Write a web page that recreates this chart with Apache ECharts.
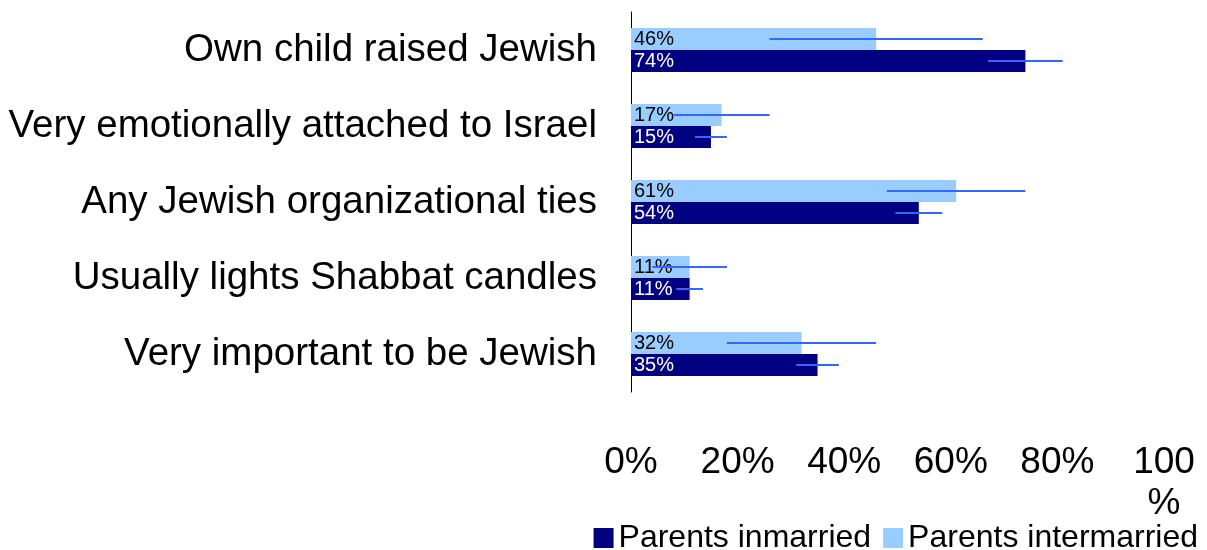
<!DOCTYPE html>
<html>
<head>
<meta charset="utf-8">
<title>Jewish engagement by parents' marriage</title>
<script src="https://cdn.jsdelivr.net/npm/echarts@6/dist/echarts.min.js"></script>
<style>
  html, body { margin: 0; padding: 0; background: #fff; }
  #chart { width: 1207px; height: 550px; }
</style>
</head>
<body>
<div id="chart"></div>
<script>
// Categories listed top to bottom
const categories = [
  'Own child raised Jewish',
  'Very emotionally attached to Israel',
  'Any Jewish organizational ties',
  'Usually lights Shabbat candles',
  'Very important to be Jewish'
];
const seriesNames = ['Parents inmarried', 'Parents intermarried'];

// Percent values
const inmarried = [74, 15, 54, 11, 35];
const intermarried = [46, 17, 61, 11, 32];

// Margins of error (± percentage points)
const inmarriedErr = [7, 3, 4.4, 2.5, 4];
const intermarriedErr = [20, 9, 13, 7, 14];

const xTicks = { min: 0, max: 100, interval: 20 };

const FONT = '"Liberation Sans", Arial, sans-serif';
const BAR_W = 22;

// Error bar line drawn through the middle of each bar
function errorRenderer(offsetSign, values, errs) {
  return function (params, api) {
    const i = api.value(0);
    const v = values[i];
    const e = errs[i];
    const left = api.coord([v - e, i]);
    const right = api.coord([v + e, i]);
    const y = left[1] + offsetSign * BAR_W / 2;
    return {
      type: 'line',
      shape: { x1: left[0], y1: y, x2: right[0], y2: y },
      style: { stroke: '#3366ff', lineWidth: 2 }
    };
  };
}

function barLabel(color) {
  return {
    show: true,
    position: 'insideLeft',
    distance: 3,
    formatter: '{c}%',
    color: color,
    fontSize: 20,
    fontFamily: FONT
  };
}

const chart = echarts.init(document.getElementById('chart'));
chart.setOption({
  animation: false,
  textStyle: { fontFamily: FONT },
  grid: { left: 631, top: 12, width: 540, height: 380 },
  xAxis: {
    type: 'value',
    min: xTicks.min,
    max: xTicks.max,
    interval: xTicks.interval,
    axisLine: { show: false },
    axisTick: { show: false },
    splitLine: { show: false },
    axisLabel: {
      formatter: '{value}%',
      color: '#000',
      fontSize: 37,
      fontFamily: FONT,
      margin: 50,
      width: 80,
      overflow: 'breakAll',
      lineHeight: 41
    }
  },
  yAxis: {
    type: 'category',
    data: categories,
    inverse: true,
    axisLine: { show: true, lineStyle: { color: '#000', width: 1 } },
    axisTick: { show: false },
    axisLabel: {
      color: '#000',
      fontSize: 38.5,
      fontFamily: FONT,
      margin: 34
    }
  },
  legend: {
    data: seriesNames,
    right: 4,
    top: 517,
    icon: 'rect',
    itemWidth: 20,
    itemHeight: 20,
    itemGap: 12,
    textStyle: { color: '#000', fontSize: 32, fontFamily: FONT }
  },
  series: [
    // Intermarried listed first so its bar sits above the inmarried bar in each group
    {
      name: seriesNames[1],
      type: 'bar',
      data: intermarried,
      barWidth: BAR_W,
      barGap: '0%',
      itemStyle: { color: '#99ccff' },
      label: barLabel('#000')
    },
    {
      name: seriesNames[0],
      type: 'bar',
      data: inmarried,
      barWidth: BAR_W,
      barGap: '0%',
      itemStyle: { color: '#000080' },
      label: barLabel('#fff')
    },
    {
      type: 'custom',
      name: 'err-in',
      data: inmarried.map((v, i) => [i]),
      encode: { y: 0 },
      renderItem: errorRenderer(1, inmarried, inmarriedErr),
      z: 5,
      silent: true
    },
    {
      type: 'custom',
      name: 'err-inter',
      data: intermarried.map((v, i) => [i]),
      encode: { y: 0 },
      renderItem: errorRenderer(-1, intermarried, intermarriedErr),
      z: 5,
      silent: true
    }
  ]
});
</script>
</body>
</html>
